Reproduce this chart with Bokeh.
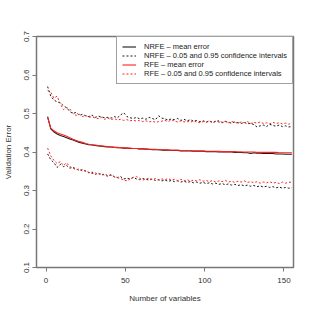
from bokeh.plotting import figure
from bokeh.models import Legend, LegendItem, FixedTicker
from bokeh.embed import file_html
from bokeh.resources import INLINE

# Number of variables (every second value)
x = list(range(1, 157, 2))

nrfe_mean = [
    0.492, 0.460, 0.452, 0.447, 0.443, 0.440, 0.437, 0.434, 0.431, 0.428,
    0.425, 0.423, 0.421, 0.419, 0.418, 0.417, 0.416, 0.415, 0.414, 0.413,
    0.413, 0.412, 0.411, 0.411, 0.410, 0.410, 0.409, 0.409, 0.409, 0.408,
    0.408, 0.407, 0.407, 0.406, 0.406, 0.406, 0.405, 0.405, 0.405, 0.404,
    0.404, 0.404, 0.403, 0.403, 0.403, 0.403, 0.402, 0.402, 0.402, 0.402,
    0.401, 0.401, 0.401, 0.401, 0.400, 0.400, 0.400, 0.400, 0.400, 0.399,
    0.399, 0.399, 0.398, 0.398, 0.396, 0.398, 0.397, 0.397, 0.396, 0.396,
    0.396, 0.396, 0.395, 0.395, 0.395, 0.394, 0.394, 0.394,
]
rfe_mean = [
    0.490, 0.462, 0.455, 0.450, 0.447, 0.444, 0.441, 0.437, 0.433, 0.430,
    0.427, 0.425, 0.422, 0.420, 0.419, 0.418, 0.417, 0.416, 0.415, 0.414,
    0.413, 0.412, 0.412, 0.411, 0.411, 0.410, 0.410, 0.409, 0.409, 0.408,
    0.408, 0.408, 0.407, 0.407, 0.407, 0.406, 0.406, 0.406, 0.405, 0.405,
    0.405, 0.405, 0.404, 0.404, 0.404, 0.404, 0.403, 0.403, 0.403, 0.403,
    0.402, 0.402, 0.402, 0.402, 0.402, 0.401, 0.401, 0.401, 0.401, 0.401,
    0.400, 0.400, 0.400, 0.400, 0.400, 0.400, 0.399, 0.399, 0.399, 0.399,
    0.399, 0.399, 0.399, 0.398, 0.398, 0.398, 0.398, 0.398,
]
nrfe_upper = [
    0.570, 0.545, 0.535, 0.530, 0.528, 0.520, 0.515, 0.505, 0.500, 0.503,
    0.495, 0.498, 0.494, 0.492, 0.496, 0.490, 0.493, 0.491, 0.489, 0.490,
    0.488, 0.492, 0.489, 0.496, 0.502, 0.492, 0.489, 0.487, 0.490, 0.486,
    0.488, 0.485, 0.490, 0.487, 0.484, 0.494, 0.488, 0.486, 0.483, 0.486,
    0.484, 0.487, 0.482, 0.485, 0.481, 0.484, 0.480, 0.482, 0.479, 0.481,
    0.478, 0.481, 0.477, 0.480, 0.478, 0.476, 0.479, 0.477, 0.475, 0.478,
    0.476, 0.474, 0.477, 0.473, 0.475, 0.471, 0.465, 0.468, 0.470, 0.466,
    0.472, 0.469, 0.467, 0.470, 0.466, 0.468, 0.465, 0.466,
]
rfe_upper = [
    0.560, 0.555, 0.540, 0.545, 0.525, 0.510, 0.515, 0.512, 0.500, 0.495,
    0.498, 0.492, 0.495, 0.490, 0.492, 0.488, 0.487, 0.490, 0.485, 0.488,
    0.484, 0.487, 0.483, 0.485, 0.482, 0.484, 0.481, 0.483, 0.480, 0.482,
    0.479, 0.481, 0.478, 0.480, 0.477, 0.479, 0.480, 0.482, 0.479, 0.484,
    0.480, 0.478, 0.481, 0.478, 0.480, 0.477, 0.481, 0.478, 0.476, 0.479,
    0.477, 0.480, 0.476, 0.479, 0.482, 0.477, 0.480, 0.476, 0.479, 0.477,
    0.475, 0.478, 0.476, 0.479, 0.474, 0.477, 0.475, 0.478, 0.474, 0.476,
    0.473, 0.477, 0.474, 0.476, 0.473, 0.475, 0.472, 0.476,
]
nrfe_lower = [
    0.395, 0.380, 0.372, 0.360, 0.368, 0.362, 0.365, 0.358, 0.360, 0.356,
    0.352, 0.354, 0.350, 0.346, 0.348, 0.342, 0.345, 0.340, 0.343, 0.338,
    0.341, 0.336, 0.334, 0.336, 0.330, 0.332, 0.330, 0.334, 0.330, 0.328,
    0.331, 0.329, 0.327, 0.330, 0.326, 0.328, 0.325, 0.327, 0.324, 0.326,
    0.323, 0.325, 0.322, 0.324, 0.321, 0.323, 0.320, 0.322, 0.319, 0.321,
    0.318, 0.320, 0.317, 0.319, 0.316, 0.318, 0.315, 0.317, 0.314, 0.316,
    0.313, 0.315, 0.312, 0.314, 0.311, 0.313, 0.310, 0.312, 0.309, 0.311,
    0.308, 0.310, 0.307, 0.309, 0.306, 0.308, 0.306, 0.307,
]
rfe_lower = [
    0.410, 0.390, 0.378, 0.370, 0.375, 0.365, 0.372, 0.362, 0.358, 0.354,
    0.356, 0.350, 0.352, 0.347, 0.344, 0.346, 0.342, 0.344, 0.339, 0.337,
    0.340, 0.335, 0.333, 0.331, 0.327, 0.325, 0.330, 0.334, 0.336, 0.332,
    0.327, 0.330, 0.332, 0.328, 0.331, 0.327, 0.330, 0.328, 0.331, 0.327,
    0.329, 0.326, 0.329, 0.325, 0.328, 0.324, 0.327, 0.325, 0.328, 0.324,
    0.326, 0.323, 0.326, 0.322, 0.325, 0.323, 0.326, 0.322, 0.324, 0.321,
    0.324, 0.322, 0.325, 0.321, 0.323, 0.320, 0.323, 0.319, 0.322, 0.320,
    0.323, 0.319, 0.321, 0.318, 0.322, 0.319, 0.321, 0.322,
]

x_ticks = [0, 50, 100, 150]
y_ticks = [0.1, 0.2, 0.3, 0.4, 0.5, 0.6, 0.7]
legend_labels = [
    "NRFE \u2013 mean error",
    "NRFE \u2013 0.05 and 0.95 confidence intervals",
    "RFE \u2013 mean error",
    "RFE \u2013 0.05 and 0.95 confidence intervals",
]

FONT = "Liberation Sans"
p = figure(width=299, height=306, output_backend="svg", toolbar_location=None,
           x_range=(-6, 156), y_range=(0.1, 0.7),
           min_border_left=34, min_border_right=6,
           min_border_top=36, min_border_bottom=39)
p.background_fill_color = "white"
p.border_fill_color = "white"
p.outline_line_color = "#777777"
p.outline_line_width = 1.5
p.xgrid.visible = False
p.ygrid.visible = False

black_color = "#1a1a1a"
red_color = "#ff2020"
r1 = p.line(x, nrfe_mean, line_color=black_color, line_width=1.1)
r2a = p.line(x, nrfe_upper, line_color=black_color, line_width=1.0, line_dash="2 2")
r2b = p.line(x, nrfe_lower, line_color=black_color, line_width=1.0, line_dash="2 2")
r3 = p.line(x, rfe_mean, line_color=red_color, line_width=1.1)
r4a = p.line(x, rfe_upper, line_color=red_color, line_width=1.0, line_dash="2 2")
r4b = p.line(x, rfe_lower, line_color=red_color, line_width=1.0, line_dash="2 2")

for ax in (p.xaxis[0], p.yaxis[0]):
    ax.axis_line_color = None
    ax.major_tick_line_color = "#777777"
    ax.major_tick_line_width = 1
    ax.major_tick_out = 4
    ax.major_tick_in = 0
    ax.minor_tick_line_color = None
    ax.major_label_text_font = FONT
    ax.major_label_text_font_size = "8px"
    ax.major_label_text_color = "#333333"
    ax.axis_label_text_font = FONT
    ax.axis_label_text_font_size = "8px"
    ax.axis_label_text_font_style = "normal"
    ax.axis_label_text_color = "#333333"

p.xaxis[0].ticker = FixedTicker(ticks=x_ticks)
p.yaxis[0].ticker = FixedTicker(ticks=y_ticks)
p.xaxis[0].axis_label = "Number of variables"
p.yaxis[0].axis_label = "Validation Error"
p.xaxis[0].major_label_standoff = 6
p.xaxis[0].axis_label_standoff = 8
p.yaxis[0].major_label_orientation = "vertical"
p.yaxis[0].major_label_standoff = 4
p.yaxis[0].axis_label_standoff = 8

legend = Legend(items=[
    LegendItem(label=legend_labels[0], renderers=[r1]),
    LegendItem(label=legend_labels[1], renderers=[r2a]),
    LegendItem(label=legend_labels[2], renderers=[r3]),
    LegendItem(label=legend_labels[3], renderers=[r4a]),
], location="top_right")
legend.margin = 0
legend.padding = 5
legend.spacing = 0
legend.glyph_width = 14
legend.glyph_height = 9
legend.label_height = 9
legend.label_standoff = 8
legend.label_text_font = FONT
legend.label_text_font_size = "7.5px"
legend.label_text_color = "#222222"
legend.border_line_color = "#444444"
legend.border_line_width = 1
legend.background_fill_alpha = 1
p.add_layout(legend)

open("out.html", "w").write(file_html(p, INLINE))
